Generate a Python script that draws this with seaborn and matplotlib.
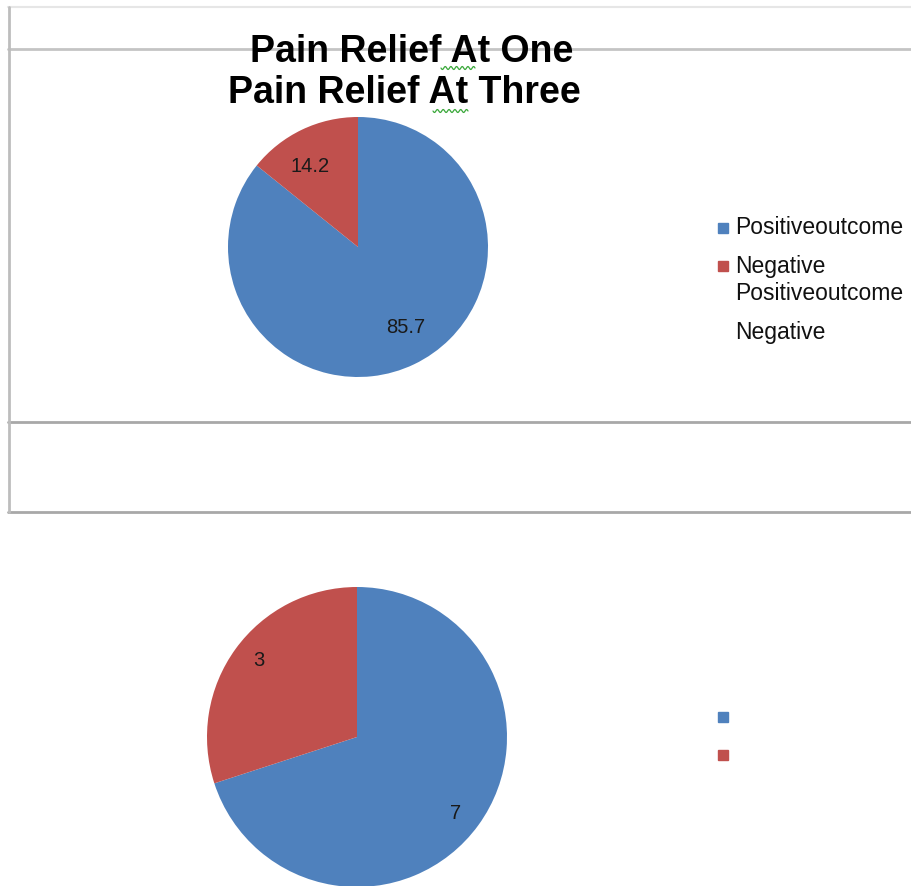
import numpy as np
import matplotlib
matplotlib.use("Agg")
import matplotlib.pyplot as plt
from matplotlib.lines import Line2D
from matplotlib.patches import Rectangle
import seaborn as sns

# Pain relief outcomes
title_lines = ["Pain Relief At One", "Pain Relief At Three"]
categories = ["Positive outcome", "Negative"]
relief_one = [85.7, 14.2]
relief_three = [7, 3]
legend_top_labels = ["Positiveoutcome", "Negative", "Positiveoutcome", "Negative"]
legend_bottom_labels = ["", ""]

sns.set_theme(style="white")
plt.rcParams["font.family"] = ["Liberation Sans", "DejaVu Sans"]

colors = ["#4F81BD", "#C0504D"]
W, H = 911, 886
fig = plt.figure(figsize=(W / 100, H / 100), dpi=100)
fig.patch.set_facecolor("white")


def fx(x):
    return x / W


def fy(y):
    return 1 - y / H


def pie_axes(cx, cy, r):
    return fig.add_axes([fx(cx - r), fy(cy + r), 2 * r / W, 2 * r / H])


def draw_pie(ax, values, dist, fs, turn=0.0):
    wedges, _ = ax.pie(values, colors=colors, startangle=90, counterclock=False,
                       radius=1, wedgeprops=dict(linewidth=0))
    ax.set_xlim(-1, 1)
    ax.set_ylim(-1, 1)
    ax.set_aspect("equal")
    ax.axis("off")
    for w, v in zip(wedges, values):
        mid = np.deg2rad((w.theta1 + w.theta2) / 2 + turn)
        ax.text(dist * np.cos(mid), dist * np.sin(mid), f"{v:g}",
                ha="center", va="center", fontsize=fs, color="#1a1a1a")


# chart frames
frame_lines = [
    ((8, 911), (7, 7), "#e6e6e6", 1.5),
    ((8, 911), (49, 49), "#c4c4c4", 2.0),
    ((8, 911), (422, 422), "#a8a8a8", 2.0),
    ((8, 911), (512, 512), "#a8a8a8", 2.0),
    ((9, 9), (7, 512), "#bdbdbd", 2.0),
]
for xs, ys, c, lw in frame_lines:
    fig.add_artist(Line2D([fx(xs[0]), fx(xs[1])], [fy(ys[0]), fy(ys[1])],
                          color=c, lw=lw, transform=fig.transFigure))

# pies
ax1 = pie_axes(358, 247, 130)
draw_pie(ax1, relief_one, 0.72, 14.5, turn=5)
ax2 = pie_axes(357, 737, 150)
draw_pie(ax2, relief_three, 0.83, 14.5, turn=-2)

# titles
for txt, (x, y) in zip(title_lines, [(412, 52), (404, 93)]):
    fig.text(fx(x), fy(y), txt, ha="center", va="center", fontsize=27,
             fontweight="bold", color="black")


def squiggle(x0, x1, y):
    xs = np.linspace(x0, x1, 60)
    ys = y + 1.5 * np.sin((xs - x0) / (x1 - x0) * 2 * np.pi * 6)
    fig.add_artist(Line2D(fx(xs), fy(ys), color="#3aa83a", lw=0.9,
                          transform=fig.transFigure))


squiggle(441, 475, 68)
squiggle(433, 468, 111)

# legend of the upper chart
top_rows = [228, 266, 294, 332]
top_marks = [colors[0], colors[1], None, None]
for lab, y, c in zip(legend_top_labels, top_rows, top_marks):
    if c is not None:
        fig.add_artist(Rectangle((fx(718), fy(y + 5)), 10 / W, 10 / H,
                                 color=c, transform=fig.transFigure))
    fig.text(fx(735), fy(y), lab, ha="left", va="center", fontsize=16.5,
             color="#111111")

# legend of the lower chart
for lab, y, c in zip(legend_bottom_labels, [717, 755], colors):
    fig.add_artist(Rectangle((fx(718), fy(y + 5)), 10 / W, 10 / H,
                             color=c, transform=fig.transFigure))
    fig.text(fx(735), fy(y), lab, ha="left", va="center", fontsize=16.5)

fig.savefig("out.png", dpi=100, facecolor="white")
